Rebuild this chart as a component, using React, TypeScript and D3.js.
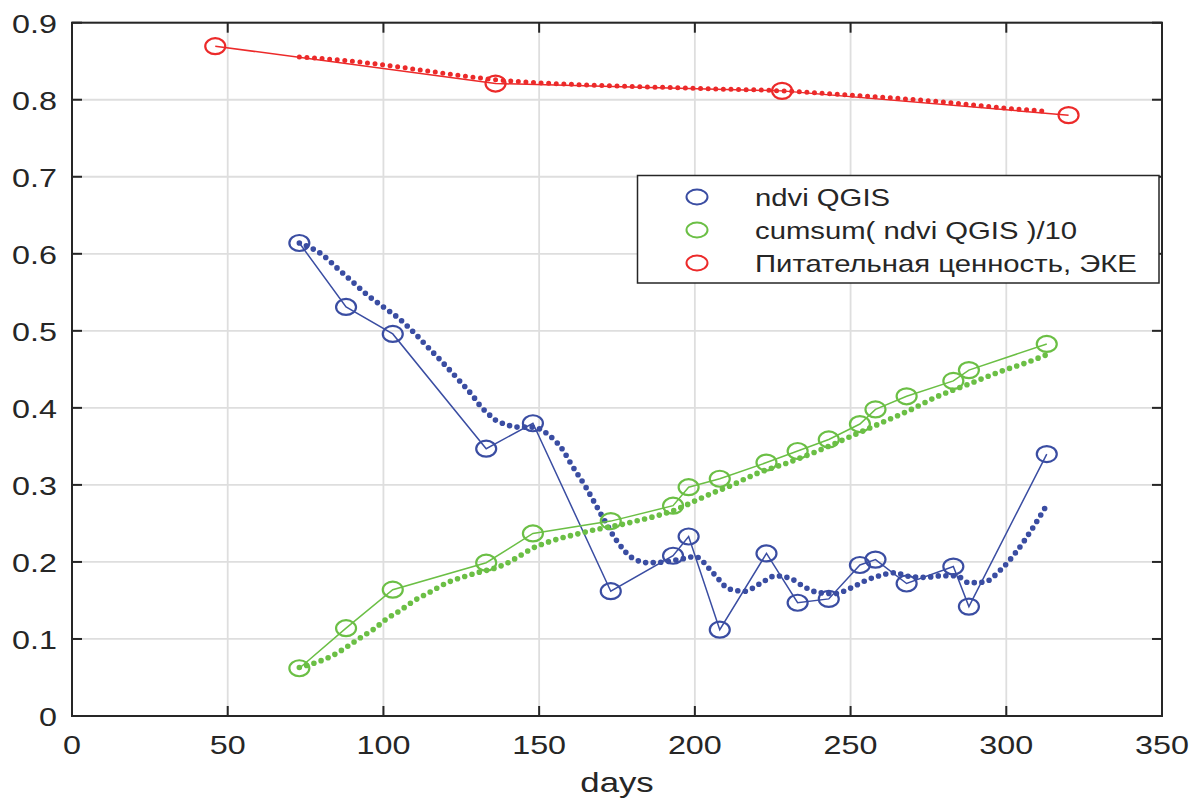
import React from "react";
import * as d3 from "d3";

// ---- data ----
const DAYS = [73, 88, 103, 133, 148, 173, 193, 198, 208, 223, 233, 243, 253, 258, 268, 283, 288, 313];
const NDVI = [0.614, 0.531, 0.496, 0.347, 0.38, 0.162, 0.208, 0.233, 0.112, 0.211, 0.147, 0.152, 0.196, 0.203, 0.172, 0.194, 0.142, 0.34];
const CUMSUM10 = [0.062, 0.114, 0.164, 0.199, 0.237, 0.253, 0.273, 0.297, 0.308, 0.329, 0.344, 0.359, 0.379, 0.398, 0.415, 0.435, 0.449, 0.483];

const EKE_DAYS = [46, 136, 228, 320];
const EKE = [0.8695, 0.821, 0.8115, 0.78];

// smoothed (dotted) curves
const NDVI_SMOOTH_DAYS = [73, 76, 80, 85, 90, 95, 100, 105, 110, 114, 119, 124, 129, 131, 134, 136, 139, 143, 148, 153, 158, 160, 165, 170, 175, 180, 185, 190, 196, 200, 206, 211, 216, 221, 226, 231, 235, 240, 245, 250, 255, 260, 264, 269, 274, 279, 284, 288, 293, 298, 303, 308, 313];
const NDVI_SMOOTH = [0.614, 0.609, 0.6, 0.582, 0.564, 0.546, 0.531, 0.516, 0.497, 0.48, 0.459, 0.437, 0.414, 0.403, 0.391, 0.384, 0.379, 0.375, 0.375, 0.365, 0.343, 0.329, 0.297, 0.261, 0.227, 0.205, 0.199, 0.2, 0.204, 0.207, 0.185, 0.165, 0.162, 0.172, 0.182, 0.178, 0.168, 0.16, 0.159, 0.166, 0.176, 0.183, 0.186, 0.181, 0.18, 0.182, 0.182, 0.173, 0.174, 0.189, 0.212, 0.241, 0.274];

const CUM_SMOOTH_DAYS = [73, 78, 83, 88, 92, 97, 101, 105, 110, 115, 121, 126, 131, 135, 139, 143, 148, 153, 158, 163, 167, 172, 177, 182, 187, 194, 201, 206, 211, 220, 230, 240, 249, 259, 269, 278, 288, 298, 306, 313];
const CUM_SMOOTH = [0.063, 0.069, 0.077, 0.089, 0.1, 0.113, 0.126, 0.136, 0.15, 0.161, 0.174, 0.181, 0.187, 0.191, 0.197, 0.206, 0.218, 0.226, 0.232, 0.237, 0.241, 0.245, 0.249, 0.254, 0.259, 0.268, 0.281, 0.29, 0.298, 0.315, 0.329, 0.345, 0.361, 0.379, 0.397, 0.415, 0.431, 0.447, 0.458, 0.469];

const EKE_SMOOTH_DAYS = [73, 90, 105, 120, 136, 150, 170, 190, 202, 228, 250, 277, 300, 313];
const EKE_SMOOTH = [0.8555, 0.85, 0.8425, 0.834, 0.826, 0.822, 0.8185, 0.816, 0.8145, 0.8115, 0.806, 0.798, 0.789, 0.785];

const X_TICKS = [0, 50, 100, 150, 200, 250, 300, 350];
const Y_TICKS = [0, 0.1, 0.2, 0.3, 0.4, 0.5, 0.6, 0.7, 0.8, 0.9];
const Y_TICK_LABELS = ["0", "0.1", "0.2", "0.3", "0.4", "0.5", "0.6", "0.7", "0.8", "0.9"];

const LEGEND = ["ndvi QGIS", "cumsum( ndvi QGIS )/10", "Питательная ценность, ЭКЕ"];
const X_LABEL = "days";

const BLUE = "#3a4da2";
const GREEN = "#6bbf45";
const RED = "#ec2a2a";
const AXIS = "#262626";
const GRID = "#dedede";
const FONT = "'Liberation Sans', Arial, Helvetica, sans-serif";
const SX = 1.22; // horizontal stretch of text in the reference

export default function App() {
  const W = 1192;
  const H = 799;
  const left = 72, right = 1162, top = 22.7, bottom = 716;
  const x = d3.scaleLinear().domain([0, 350]).range([left, right]);
  const y = d3.scaleLinear().domain([0, 0.9]).range([bottom, top]);

  const solid = d3.line<[number, number]>().x((d) => x(d[0])).y((d) => y(d[1]));
  const smooth = d3
    .line<[number, number]>()
    .x((d) => x(d[0]))
    .y((d) => y(d[1]))
    .curve(d3.curveMonotoneX);

  const zip = (a: number[], b: number[]) => a.map((v, i) => [v, b[i]] as [number, number]);

  const series = [
    { pts: zip(DAYS, NDVI), smoothPts: zip(NDVI_SMOOTH_DAYS, NDVI_SMOOTH), color: BLUE, dot: 5.6 },
    { pts: zip(DAYS, CUMSUM10), smoothPts: zip(CUM_SMOOTH_DAYS, CUM_SMOOTH), color: GREEN, dot: 5.6 },
    { pts: zip(EKE_DAYS, EKE), smoothPts: zip(EKE_SMOOTH_DAYS, EKE_SMOOTH), color: RED, dot: 5 },
  ];

  const tickLen = 10;
  const legendColors = [BLUE, GREEN, RED];

  return (
    <svg
      width={W}
      height={H}
      style={{ position: "absolute", left: 0, top: 0, background: "#fff" }}
      fontFamily={FONT}
    >
      <rect x={0} y={0} width={W} height={H} fill="#fff" />
      {/* grid */}
      {X_TICKS.map((t) => (
        <line key={"gx" + t} x1={x(t)} x2={x(t)} y1={top} y2={bottom} stroke={GRID} strokeWidth={1.8} />
      ))}
      {Y_TICKS.map((t) => (
        <line key={"gy" + t} x1={left} x2={right} y1={y(t)} y2={y(t)} stroke={GRID} strokeWidth={1.8} />
      ))}

      {/* data */}
      {series.map((s, i) => (
        <g key={"s" + i}>
          <path d={solid(s.pts) || ""} fill="none" stroke={s.color} strokeWidth={1.5} />
          <path
            d={smooth(s.smoothPts) || ""}
            fill="none"
            stroke={s.color}
            strokeWidth={s.dot}
            strokeLinecap="round"
            strokeDasharray="0 7.6"
          />
          {s.pts.map((p, j) => (
            <ellipse
              key={j}
              cx={x(p[0])}
              cy={y(p[1])}
              rx={10}
              ry={8}
              fill="none"
              stroke={s.color}
              strokeWidth={2.2}
            />
          ))}
        </g>
      ))}

      {/* axes box */}
      <rect x={left} y={top} width={right - left} height={bottom - top} fill="none" stroke={AXIS} strokeWidth={2} />
      {X_TICKS.map((t) => (
        <g key={"xt" + t}>
          <line x1={x(t)} x2={x(t)} y1={bottom} y2={bottom - tickLen} stroke={AXIS} strokeWidth={2} />
          <line x1={x(t)} x2={x(t)} y1={top} y2={top + tickLen} stroke={AXIS} strokeWidth={2} />
          <text
            transform={`translate(${x(t)},${754}) scale(${SX},1)`}
            textAnchor="middle"
            fontSize={26.5}
            fill={AXIS}
          >
            {t}
          </text>
        </g>
      ))}
      {Y_TICKS.map((t, i) => (
        <g key={"yt" + t}>
          <line x1={left} x2={left + tickLen} y1={y(t)} y2={y(t)} stroke={AXIS} strokeWidth={2} />
          <line x1={right} x2={right - tickLen} y1={y(t)} y2={y(t)} stroke={AXIS} strokeWidth={2} />
          <text
            transform={`translate(${57},${y(t) + 10}) scale(${SX},1)`}
            textAnchor="end"
            fontSize={26.5}
            fill={AXIS}
          >
            {Y_TICK_LABELS[i]}
          </text>
        </g>
      ))}
      <text
        transform={`translate(${(left + right) / 2},${792}) scale(${SX},1)`}
        textAnchor="middle"
        fontSize={28.5}
        fill={AXIS}
      >
        {X_LABEL}
      </text>

      {/* legend */}
      <g>
        <rect x={637.5} y={175.5} width={521.5} height={107.5} fill="#fff" stroke={AXIS} strokeWidth={1.5} />
        {LEGEND.map((label, i) => {
          const cy = 197 + i * 33;
          return (
            <g key={"lg" + i}>
              <ellipse cx={697} cy={cy} rx={10.5} ry={7.5} fill="none" stroke={legendColors[i]} strokeWidth={2} />
              <text
                transform={`translate(${755},${cy + 8.5}) scale(${SX},1)`}
                fontSize={24}
                fill={AXIS}
              >
                {label}
              </text>
            </g>
          );
        })}
      </g>
    </svg>
  );
}
